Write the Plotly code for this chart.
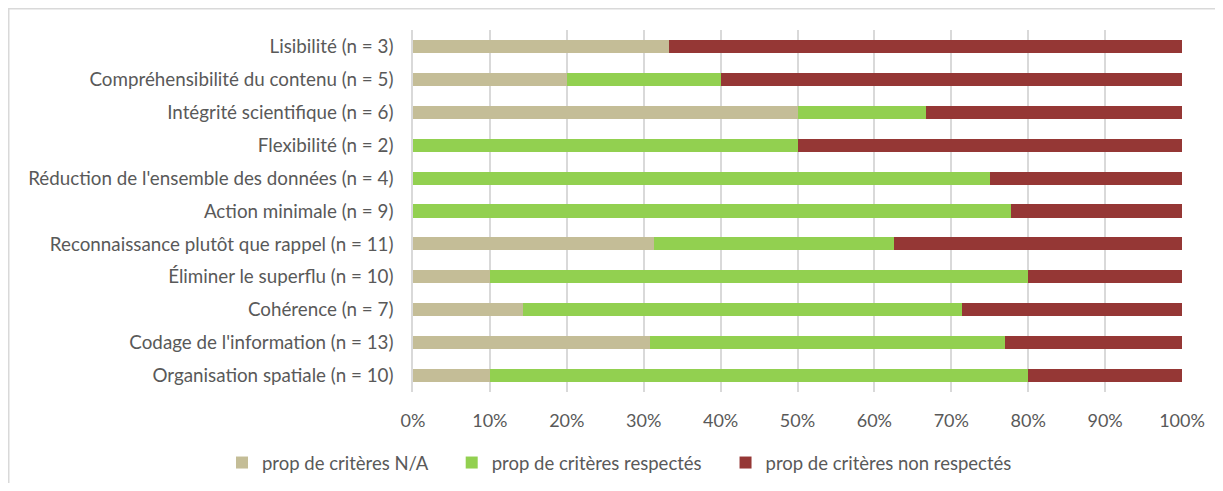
import plotly.graph_objects as go

categories = [
    "Lisibilité (n = 3)",
    "Compréhensibilité du contenu (n = 5)",
    "Intégrité scientifique (n = 6)",
    "Flexibilité (n = 2)",
    "Réduction de l'ensemble des données (n = 4)",
    "Action minimale (n = 9)",
    "Reconnaissance plutôt que rappel (n = 11)",
    "Éliminer le superflu (n = 10)",
    "Cohérence (n = 7)",
    "Codage de l'information (n = 13)",
    "Organisation spatiale (n = 10)",
]

# proportions (%)
prop_na = [33.3, 20.0, 50.0, 0.0, 0.0, 0.0, 31.3, 10.0, 14.3, 30.8, 10.0]
prop_respectes = [0.0, 20.0, 16.7, 50.0, 75.0, 77.8, 31.3, 70.0, 57.1, 46.2, 70.0]
prop_non_respectes = [66.7, 60.0, 33.3, 50.0, 25.0, 22.2, 37.4, 20.0, 28.6, 23.1, 20.0]

x_ticks = [0, 10, 20, 30, 40, 50, 60, 70, 80, 90, 100]

legend_names = [
    "prop de critères N/A",
    "prop de critères respectés",
    "prop de critères non respectés",
]
colors = ["#C4BD97", "#92D050", "#953735"]

fig = go.Figure()
pad = "\u00a0" * 4  # widen the gap between legend entries
for i, (name, vals, color) in enumerate(zip(legend_names,
                                            [prop_na, prop_respectes, prop_non_respectes],
                                            colors)):
    fig.add_trace(go.Bar(
        y=categories,
        x=vals,
        name=name + (pad if i < 2 else ""),
        orientation="h",
        marker=dict(color=color, line=dict(width=0)),
    ))

# page body adds an 8px margin, so the figure is laid out 8px smaller
W, H = 1207, 475
ml, mt = 405, 22
plot_right, plot_bottom = 1174, 384
mr, mb = W - plot_right, H - plot_bottom
pw, ph = plot_right - ml, plot_bottom - mt


def px_x(p):
    return (p - ml) / pw


def px_y(p):
    return 1 - (p - mt) / ph


fig.update_layout(
    width=W,
    height=H,
    barmode="stack",
    bargap=0.6,
    margin=dict(l=ml, r=mr, t=mt, b=mb, autoexpand=False),
    paper_bgcolor="white",
    plot_bgcolor="white",
    font=dict(family="Lato", size=18, color="#595959"),
    # left of and below the plot area, so plotly lets it run the full width
    legend=dict(
        orientation="h",
        x=px_x(214),
        xanchor="left",
        y=px_y(455),
        yanchor="middle",
        font=dict(size=18.5, color="#595959"),
        itemwidth=30,
        traceorder="normal",
    ),
    xaxis=dict(
        range=[0, 100],
        tickvals=x_ticks,
        ticktext=[f"{t}%" for t in x_ticks],
        tickfont=dict(size=18),
        showgrid=True,
        gridcolor="#D9D9D9",
        gridwidth=1.5,
        zeroline=False,
        ticks="",
        ticklabelstandoff=16,
    ),
    yaxis=dict(
        autorange="reversed",
        tickfont=dict(size=18.8),
        showline=True,
        linecolor="#D9D9D9",
        linewidth=1.5,
        ticks="",
        ticklabelstandoff=14,
    ),
    shapes=[dict(
        type="rect",
        xref="paper", yref="paper",
        x0=px_x(0.75), x1=px_x(W + 10),
        y0=px_y(H + 10), y1=px_y(0.75),
        line=dict(color="#D9D9D9", width=1.5),
        fillcolor="rgba(0,0,0,0)",
        layer="below",
    )],
)

fig.write_html("out.html")
